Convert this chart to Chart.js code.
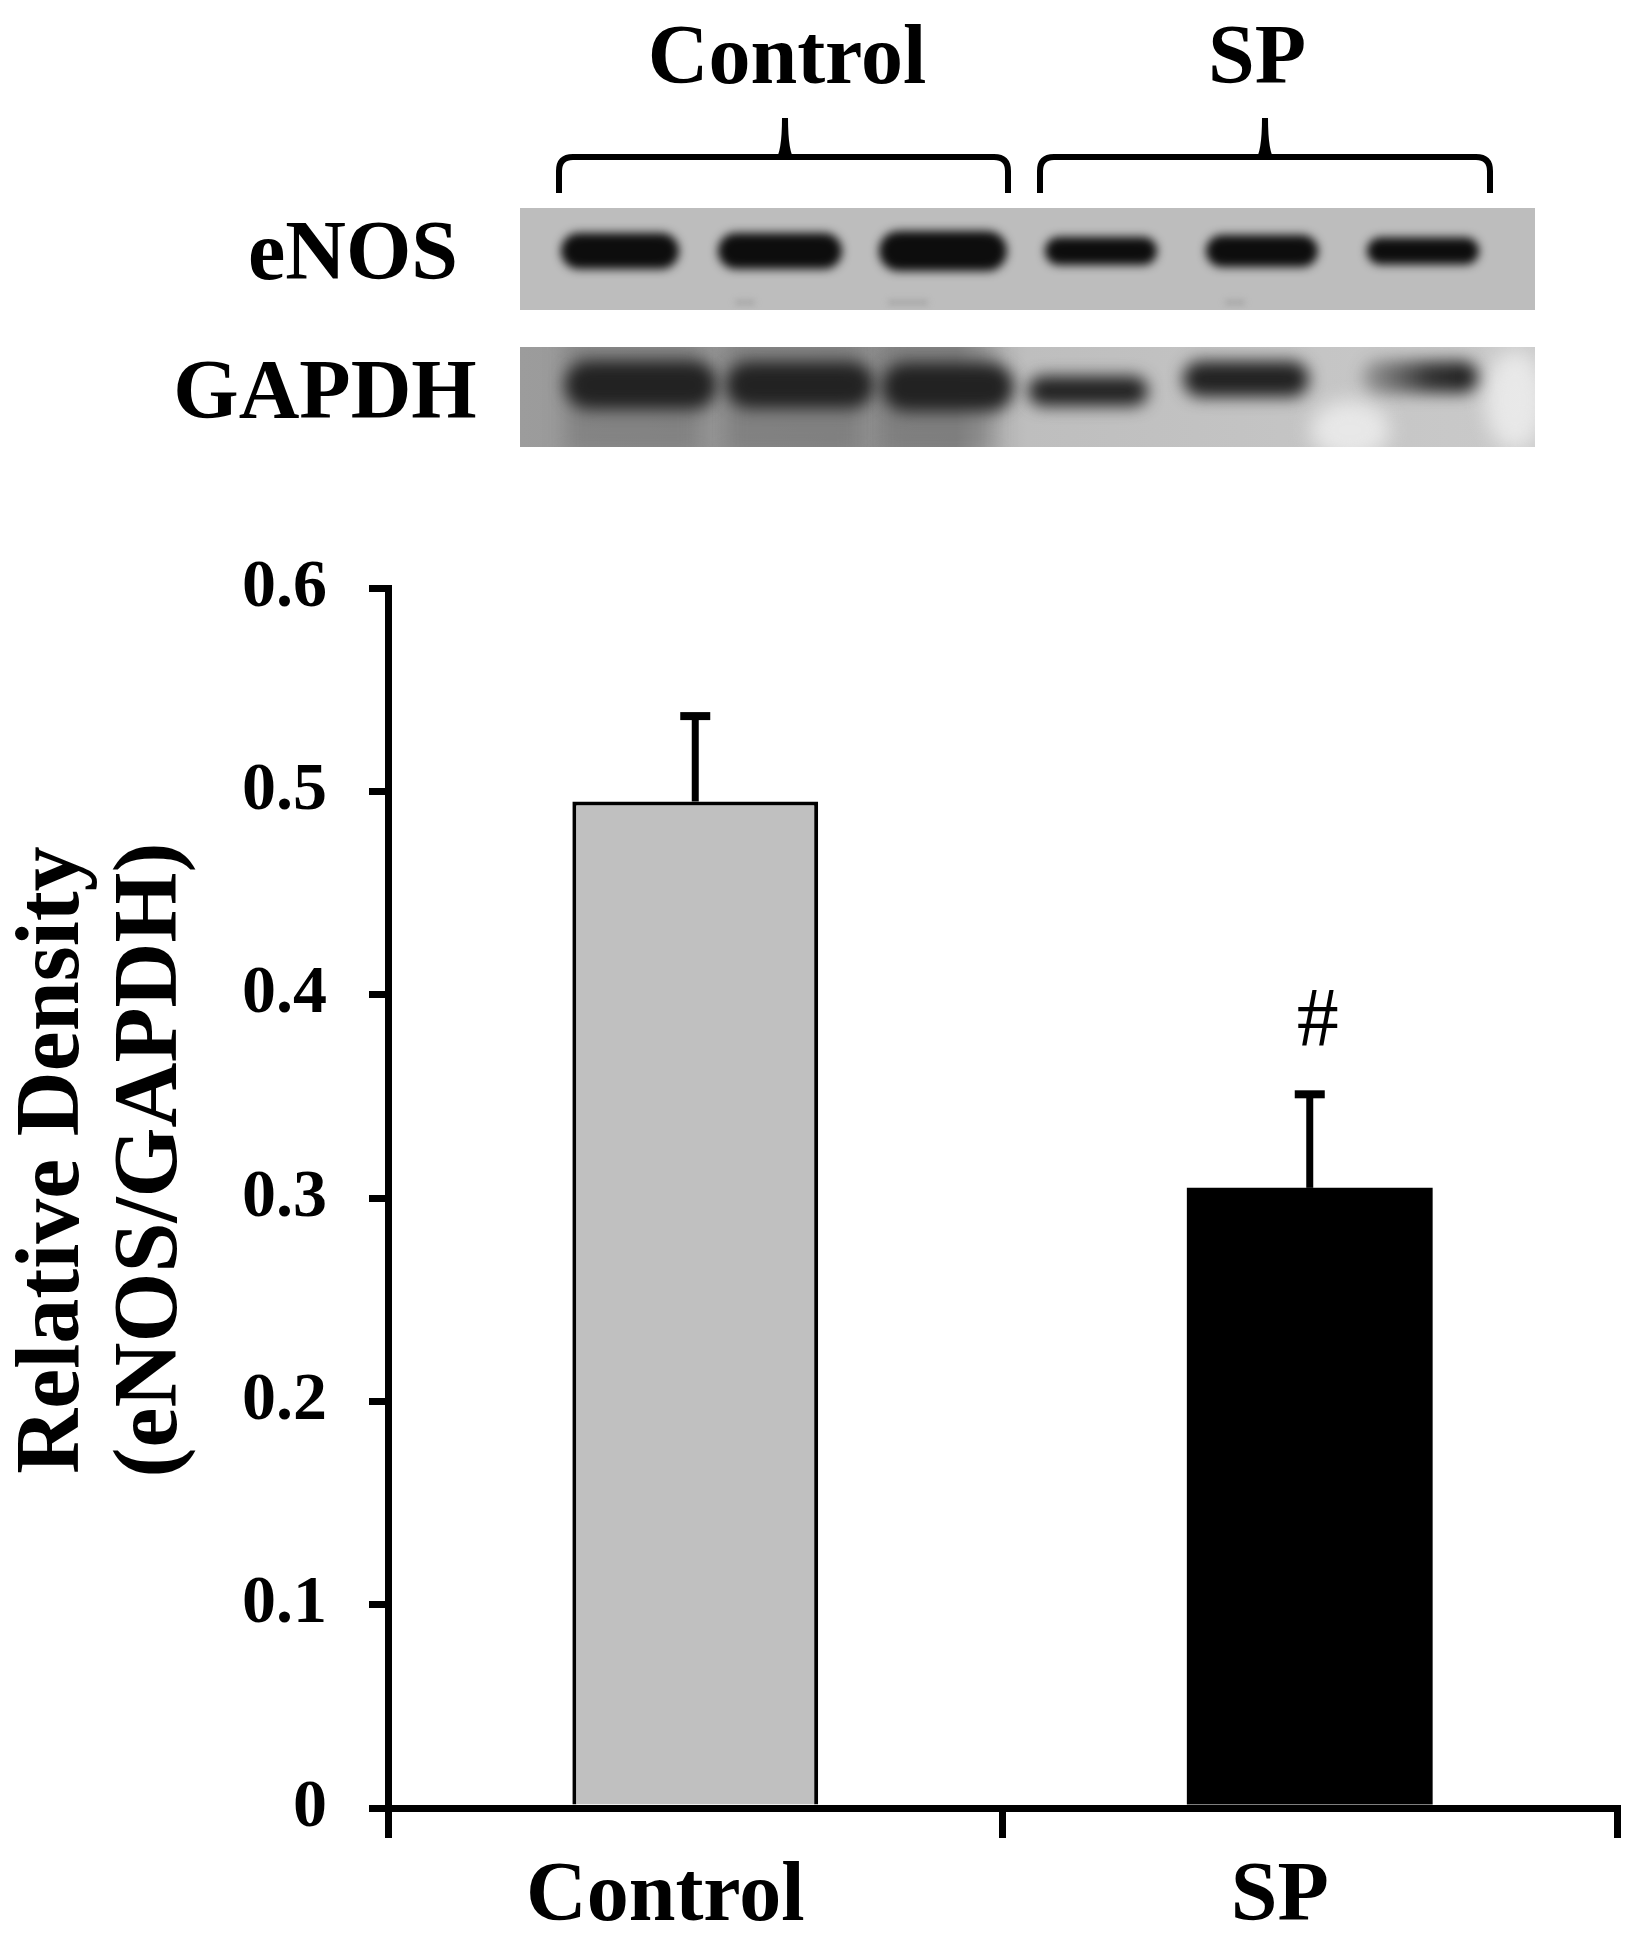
<!DOCTYPE html>
<html>
<head>
<meta charset="utf-8">
<title>eNOS relative density</title>
<script src="https://cdn.jsdelivr.net/npm/chart.js@4.4.1/dist/chart.umd.min.js"></script>
<style>
  html, body { margin: 0; padding: 0; background: #fff; }
  #wrap { width: 1629px; height: 1950px; }
</style>
</head>
<body>
<div id="wrap"><canvas id="myChart" width="1629" height="1950"></canvas></div>
<script>
// data
const groups = ['Control', 'SP'];
const density = [0.495, 0.305];
const densityErr = [0.042, 0.046];
const marks = ['', '#'];
const yTickLabels = ['0', '0.1', '0.2', '0.3', '0.4', '0.5', '0.6'];
const yTitle = ['Relative Density', '(eNOS/GAPDH)'];
const blotRows = ['eNOS', 'GAPDH'];

const SERIF = "'Liberation Serif', 'Times New Roman', serif";

// western blot picture above the chart (decoration, not data)
const enosBands = [
  { x: 620, w: 118, h: 36 }, { x: 780, w: 124, h: 36 }, { x: 943, w: 128, h: 40 },
  { x: 1101, w: 112, h: 28 }, { x: 1262, w: 112, h: 32 }, { x: 1423, w: 112, h: 27 }
];
const gapdhBands = [
  { x: 641, y: 385, w: 152, h: 48 }, { x: 800, y: 385, w: 148, h: 46 }, { x: 948, y: 387, w: 132, h: 48 },
  { x: 1088, y: 391, w: 120, h: 30 }, { x: 1246, y: 379, w: 126, h: 36 }, { x: 1420, y: 377, w: 116, h: 32, fade: true }
];

function roundBand(ctx, x, y, w, h) {
  ctx.beginPath();
  ctx.roundRect(x - w / 2, y - h / 2, w, h, h / 2);
  ctx.fill();
}

function brace(ctx, x0, x1, xm) {
  const yl = 157, yb = 193, r = 14;
  ctx.lineWidth = 6;
  ctx.beginPath();
  ctx.moveTo(x0, yb);
  ctx.lineTo(x0, yl + r);
  ctx.quadraticCurveTo(x0, yl, x0 + r, yl);
  ctx.lineTo(x1 - r, yl);
  ctx.quadraticCurveTo(x1, yl, x1, yl + r);
  ctx.lineTo(x1, yb);
  ctx.stroke();
  // little spike in the middle
  ctx.beginPath();
  ctx.moveTo(xm - 10, yl + 3);
  ctx.quadraticCurveTo(xm - 3, yl - 4, xm - 3, 118);
  ctx.lineTo(xm + 3, 118);
  ctx.quadraticCurveTo(xm + 3, yl - 4, xm + 10, yl + 3);
  ctx.closePath();
  ctx.fill();
}

const blotPlugin = {
  id: 'blot',
  afterDraw(chart) {
    const ctx = chart.ctx;
    ctx.save();
    ctx.fillStyle = '#000';
    ctx.strokeStyle = '#000';

    // group labels and braces
    ctx.font = 'bold 84px ' + SERIF;
    ctx.textAlign = 'center';
    ctx.textBaseline = 'alphabetic';
    ctx.fillText(groups[0], 787, 83);
    ctx.fillText(groups[1], 1257, 83);
    brace(ctx, 559, 1008, 785);
    brace(ctx, 1040, 1490, 1265);

    // row labels
    ctx.fillText(blotRows[0], 353, 279);
    ctx.fillText(blotRows[1], 325, 418);

    // eNOS strip
    ctx.save();
    ctx.beginPath();
    ctx.rect(520, 208, 1015, 102);
    ctx.clip();
    ctx.fillStyle = '#bdbdbd';
    ctx.fillRect(520, 208, 1015, 102);
    ctx.filter = 'blur(3px)';
    ctx.fillStyle = 'rgba(150,150,150,0.6)';
    [[735, 300, 20], [888, 300, 40], [1225, 300, 20]].forEach(d => ctx.fillRect(d[0], d[1], d[2], 5));
    ctx.filter = 'blur(5px)';
    ctx.fillStyle = '#0d0d0d';
    enosBands.forEach(b => roundBand(ctx, b.x, 251, b.w, b.h));
    ctx.restore();

    // GAPDH strip
    ctx.save();
    ctx.beginPath();
    ctx.rect(520, 347, 1015, 100);
    ctx.clip();
    const g = ctx.createLinearGradient(520, 0, 1535, 0);
    g.addColorStop(0, '#9c9c9c');
    g.addColorStop(0.43, '#8e8e8e');
    g.addColorStop(0.46, '#b0b0b0');
    g.addColorStop(0.5, '#bebebe');
    g.addColorStop(1, '#cacaca');
    ctx.fillStyle = g;
    ctx.fillRect(520, 347, 1015, 100);
    ctx.filter = 'blur(10px)';
    ctx.fillStyle = 'rgba(110,110,110,0.5)';
    [[565, 135], [725, 135], [880, 115]].forEach(l => ctx.fillRect(l[0], 340, l[1], 115));
    ctx.fillStyle = 'rgba(240,240,240,0.8)';
    ctx.beginPath(); ctx.ellipse(1350, 430, 40, 30, 0, 0, Math.PI * 2); ctx.fill();
    ctx.beginPath(); ctx.ellipse(1515, 400, 30, 50, 0, 0, Math.PI * 2); ctx.fill();
    ctx.filter = 'blur(8px)';
    gapdhBands.forEach(b => {
      if (b.fade) {
        const fg = ctx.createLinearGradient(b.x - b.w / 2, 0, b.x + b.w / 2, 0);
        fg.addColorStop(0, 'rgba(40,40,40,0.25)');
        fg.addColorStop(0.6, 'rgba(32,32,32,0.9)');
        fg.addColorStop(1, '#1c1c1c');
        ctx.fillStyle = fg;
      } else {
        ctx.fillStyle = '#222';
      }
      roundBand(ctx, b.x, b.y, b.w, b.h);
    });
    ctx.restore();

    ctx.restore();
  }
};

const errorBarPlugin = {
  id: 'errorBars',
  afterDatasetsDraw(chart) {
    const ctx = chart.ctx;
    const y = chart.scales.y;
    const meta = chart.getDatasetMeta(0);
    ctx.save();
    ctx.strokeStyle = '#000';
    ctx.fillStyle = '#000';
    meta.data.forEach((bar, i) => {
      const top = y.getPixelForValue(density[i] + densityErr[i]);
      ctx.lineWidth = 7;
      ctx.beginPath();
      ctx.moveTo(bar.x, bar.y);
      ctx.lineTo(bar.x, top);
      ctx.stroke();
      ctx.lineWidth = 8;
      ctx.beginPath();
      ctx.moveTo(bar.x - 15, top);
      ctx.lineTo(bar.x + 15, top);
      ctx.stroke();
      if (marks[i]) {
        ctx.font = '84px ' + SERIF;
        ctx.textAlign = 'center';
        ctx.textBaseline = 'alphabetic';
        ctx.fillText(marks[i], bar.x + 8, top - 48);
      }
    });

    // y axis title, two lines, reading bottom to top
    const area = chart.chartArea;
    ctx.font = 'bold 90px ' + SERIF;
    ctx.textAlign = 'center';
    ctx.textBaseline = 'middle';
    ctx.translate(0, (area.top + area.bottom) / 2 - 38);
    ctx.rotate(-Math.PI / 2);
    ctx.fillText(yTitle[0], 0, 55);
    ctx.fillText(yTitle[1], 0, 153);
    ctx.restore();
  }
};

const ctx = document.getElementById('myChart').getContext('2d');
new Chart(ctx, {
  type: 'bar',
  data: {
    labels: groups,
    datasets: [{
      data: density,
      backgroundColor: ['#c0c0c0', '#000000'],
      borderColor: '#000000',
      borderWidth: [4, 0],
      borderSkipped: 'bottom',
      barPercentage: 0.4,
      categoryPercentage: 1
    }]
  },
  options: {
    responsive: false,
    animation: false,
    layout: { padding: { top: 588, right: 12, left: 0, bottom: 0 } },
    plugins: {
      legend: { display: false },
      tooltip: { enabled: false }
    },
    scales: {
      x: {
        z: 1,
        offset: true,
        grid: { offset: true, drawOnChartArea: false, drawTicks: true, tickLength: 30, lineWidth: 7, color: '#000' },
        border: { display: true, width: 7, color: '#000' },
        ticks: {
          color: '#000',
          font: { family: SERIF, size: 84, weight: 'bold' },
          padding: 10,
          labelOffset: -30,
          maxRotation: 0
        },
        afterFit: (s) => { s.height = 142; }
      },
      y: {
        z: 1,
        min: 0,
        max: 0.6,
        ticks: {
          stepSize: 0.1,
          callback: (v, i) => yTickLabels[i],
          color: '#000',
          font: { family: SERIF, size: 68, weight: 'bold' },
          padding: 42
        },
        grid: { drawOnChartArea: false, drawTicks: true, tickLength: 19, lineWidth: 7, color: '#000' },
        border: { display: true, width: 7, color: '#000' },
        afterFit: (s) => { s.width = 388; }
      }
    }
  },
  plugins: [blotPlugin, errorBarPlugin]
});
</script>
</body>
</html>
